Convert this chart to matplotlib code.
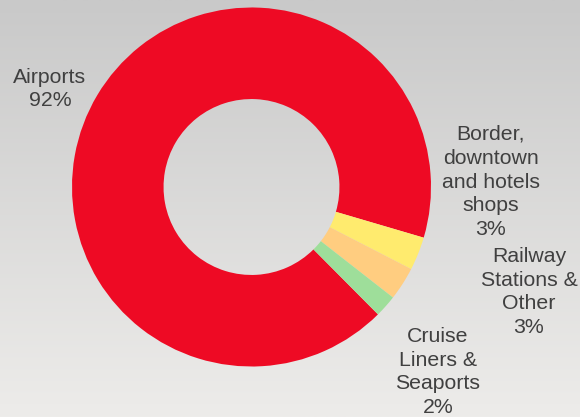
import numpy as np
import matplotlib
matplotlib.use("Agg")
import matplotlib.pyplot as plt
from matplotlib.colors import LinearSegmentedColormap

plt.rcParams["font.family"] = ["Liberation Sans", "DejaVu Sans"]

# share of sales by channel
channels = ["Airports", "Border,\ndowntown\nand hotels\nshops",
            "Railway\nStations &\nOther", "Cruise\nLiners &\nSeaports"]
shares = [92, 3, 3, 2]
colors = ["#EE0A24", "#FFEB6E", "#FFCD80", "#9EDE9A"]

# where each label block sits (pixels, y measured from the bottom)
label_xy = [(50, 328), (491, 235), (529, 125), (438, 45)]

W, H = 580, 417
fig = plt.figure(figsize=(W / 100, H / 100), dpi=100)
ax = fig.add_axes([0, 0, 1, 1])

# soft grey backdrop, darker at the top
bg = LinearSegmentedColormap.from_list("bg", ["#EDECEA", "#C9C9C9"])
grad = np.linspace(0, 1, 256).reshape(-1, 1)
ax.imshow(grad, cmap=bg, extent=(0, W, 0, H), origin="lower",
          aspect="auto", zorder=0)

ax.pie(shares, colors=colors, startangle=314.8, counterclock=False,
       center=(251.5, 230), radius=179.5,
       wedgeprops=dict(width=179.5 * 0.51, linewidth=0, zorder=2))

for name, val, (x, y) in zip(channels, shares, label_xy):
    ax.text(x, y, f"{name}\n{val}%", ha="center", va="center",
            fontsize=15.3, color="#404040", linespacing=1.33, zorder=3)

ax.set_xlim(0, W)
ax.set_ylim(0, H)
ax.set_aspect("equal")
ax.axis("off")

fig.savefig("out.png", dpi=100)
